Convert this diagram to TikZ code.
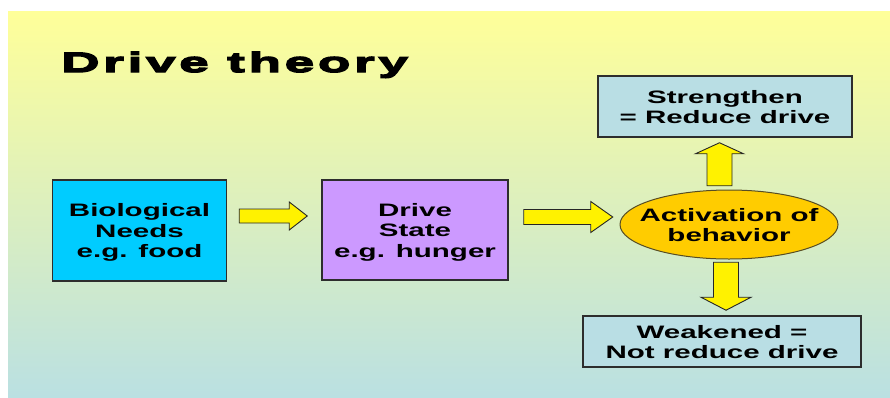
\documentclass[tikz,border=0pt]{standalone}
\usepackage{fontspec}
\setmainfont{Liberation Sans}
\newfontfamily\boxfont{Liberation Sans}[FakeStretch=1.64]
\newfontfamily\titlefont{Liberation Sans}[FakeStretch=1.9,FakeBold=5,LetterSpace=13]
\usetikzlibrary{calc}
\definecolor{bgtop}{RGB}{255,255,153}
\definecolor{bgbot}{RGB}{186,224,226}
\definecolor{biocol}{RGB}{0,204,255}
\definecolor{drivecol}{RGB}{204,153,255}
\definecolor{outcol}{RGB}{185,222,228}
\definecolor{actcol}{RGB}{255,204,0}
\definecolor{edgecol}{RGB}{45,45,45}
\newcommand\blockarr[6]{%
  \draw[blockarrow, shift={(#1)}, rotate=#2]
    (0,-#4) -- (#3-#6,-#4) -- (#3-#6,-#5) -- (#3,0) -- (#3-#6,#5) -- (#3-#6,#4) -- (0,#4) -- cycle;}
\begin{document}
\begin{tikzpicture}[x=1pt,y=-1pt,
  stagebox/.style={draw=edgecol, line width=1.5pt, inner sep=0pt, align=center,
    font=\boxfont\bfseries\fontsize{18}{20.5}\selectfont},
  txt/.style={inner sep=0pt, align=center,
    font=\boxfont\bfseries\fontsize{18}{20}\selectfont},
  blockarrow/.style={draw=black!85, line width=0.9pt, fill=yellow, line join=miter}]
\useasboundingbox (0,0) rectangle (890,397);
\fill[white] (0,0) rectangle (890,397);
\shade[top color=bgtop, bottom color=bgbot] (8,11) rectangle (890,397);

\node[anchor=base west, inner sep=0pt,
  font=\titlefont\bfseries\fontsize{28}{28}\selectfont] (title) at (61,72) {Drive theory};

\node[stagebox, fill=biocol, minimum width=174pt, minimum height=101pt, text depth=-2pt] (bio)
  at (139.5,230.5) {Biological\\Needs\\e.g. food};
\node[stagebox, fill=drivecol, minimum width=186pt, minimum height=100pt, text depth=-2pt] (drive)
  at (415,230) {Drive\\State\\e.g. hunger};
\node[stagebox, fill=outcol, minimum width=254pt, minimum height=61pt, text depth=-8pt,
  font=\boxfont\bfseries\fontsize{18}{20}\selectfont] (strong)
  at (725,106.5) {Strengthen\\= Reduce drive};
\node[stagebox, fill=outcol, minimum width=278pt, minimum height=51pt, text depth=-6pt,
  font=\boxfont\bfseries\fontsize{18}{20}\selectfont] (weak)
  at (722,341.5) {Weakened =\\Not reduce drive};

\coordinate (actc) at (729,224.5);
\draw[draw=edgecol!80!actcol, line width=1pt, fill=actcol] (actc) ellipse [x radius=109pt, y radius=34.5pt];
\node[txt, text depth=-5pt] (act) at (actc) {Activation of\\behavior};

\coordinate (a1s) at ($(bio.east)+(12,-14.5)$);
\coordinate (a2s) at ($(drive.east)+(15,-13)$);
\coordinate (a3s) at ($(strong.south)+(-5.5,48)$);
\coordinate (a4s) at ($(weak.north)+(4,-53)$);
\blockarr{a1s}{0}{68}{7}{14}{18}
\blockarr{a2s}{0}{89}{7.5}{15.5}{22}
\blockarr{a3s}{90}{43}{12.5}{24}{11}
\blockarr{a4s}{-90}{48}{12.5}{25}{13}
\end{tikzpicture}
\end{document}
